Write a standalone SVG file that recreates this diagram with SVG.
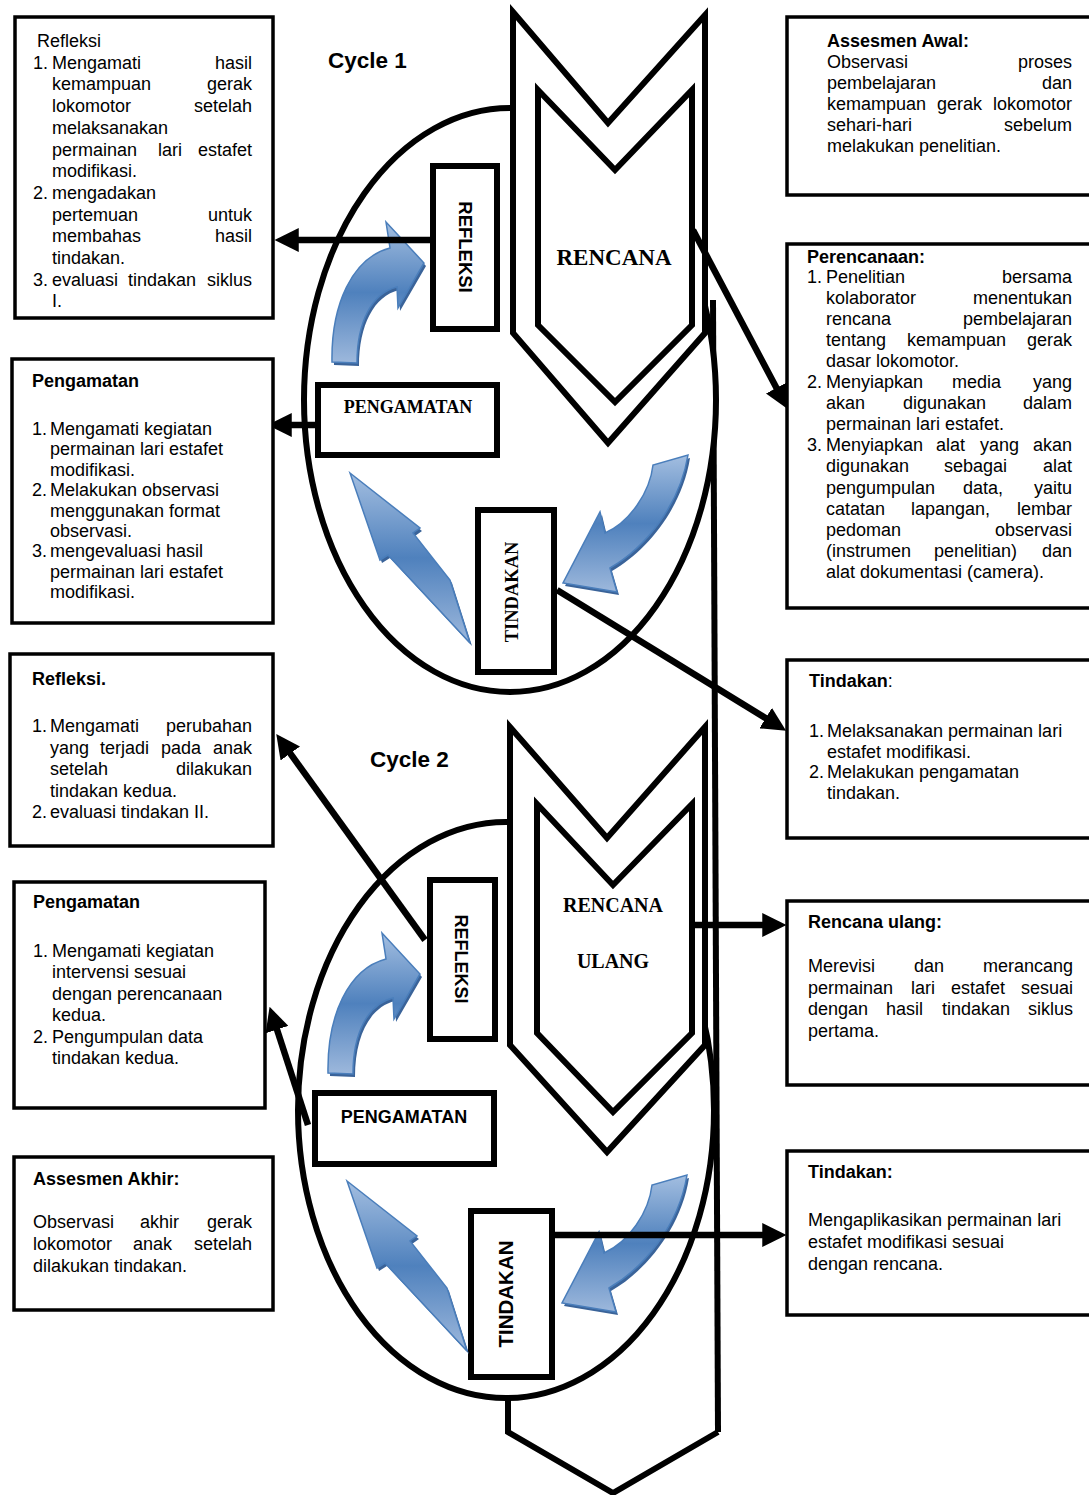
<svg xmlns="http://www.w3.org/2000/svg" xmlns:xlink="http://www.w3.org/1999/xlink" width="1089" height="1495" viewBox="0 0 1089 1495">
<style>
.t{font-family:"Liberation Sans",Arial,sans-serif;font-size:18px;fill:#000}
.b{font-weight:bold}
.e{text-anchor:end}
.m{text-anchor:middle}
.tm{font-family:"Liberation Serif","Times New Roman",serif;font-weight:bold;fill:#000}
.box{fill:#fff;stroke:#000;stroke-width:3.5}
.ib{fill:#fff;stroke:#000;stroke-width:6}
.sh{fill:#fff;stroke:#000;stroke-width:6;stroke-linejoin:miter}
.ln{fill:none;stroke:#000;stroke-width:6}
.con{fill:none;stroke:#000;stroke-width:6.5;marker-end:url(#ah)}
.ba{fill:url(#bg);stroke:#4A7EBB;stroke-width:1.5;stroke-linejoin:miter}
.bs{fill:#3A6399}
</style>
<defs>
<marker id="ah" markerUnits="userSpaceOnUse" markerWidth="24" markerHeight="24" viewBox="0 0 22 22" refX="8" refY="11" orient="auto"><path d="M0,0 L22,11 L0,22 Z" fill="#000"/></marker>
<linearGradient id="bg" x1="0" y1="0" x2="0" y2="1"><stop offset="0" stop-color="#A3BEE0"/><stop offset="0.5" stop-color="#4F81BD"/><stop offset="1" stop-color="#9DB8DC"/></linearGradient>
<path id="arA" d="M332,362 C331,305 352,258 390,248 L386,222 L424,263 L398,308 L397,287 C372,293 357,322 357,363 Z"/>
<path id="arB" d="M653,465 C650,492 630,522 605,533 L600,512 L563,583 L617,592 L610,568 C645,548 680,505 688,455 Z"/>
<path id="arC" d="M350,473 L420,528 L413,533 L450,580 L470,643 L388,555 L380,560 Z"/>
</defs>

<g id="backbone">
<path class="ln" d="M713,300 L718,1432"/>
<path class="ln" d="M508,1398 L508,1432 L613,1493 L718,1432"/>
</g>

<g id="cycle1">
<ellipse class="sh" cx="510" cy="400" rx="206" ry="292"/>
<path class="sh" d="M513,12 L608,123 L705,15 L705,333 L608,443 L513,333 Z"/>
<path class="sh" d="M538,90 L615,170 L692,90 L692,325 L615,402 L538,325 Z"/>
<text class="tm m" x="614" y="265" font-size="23">RENCANA</text>
<text class="t b" x="328" y="68" style="font-size:22.5px">Cycle 1</text>
</g>

<g id="cycle2">
<ellipse class="sh" cx="506" cy="1110" rx="208" ry="288"/>
<path class="sh" d="M510,727 L607,838 L705,727 L705,1045 L607,1152 L510,1045 Z"/>
<path class="sh" d="M537,804 L613,885 L692,804 L692,1033 L613,1112 L537,1033 Z"/>
<text class="tm m" x="613" y="912" font-size="20">RENCANA</text>
<text class="tm m" x="613" y="968" font-size="20">ULANG</text>
<text class="t b" x="370" y="767" style="font-size:22.5px">Cycle 2</text>
</g>

<g id="refleksi1">
<rect class="ib" x="433" y="166" width="64" height="163"/>
<text class="t b m" transform="translate(459,247) rotate(90)" style="font-size:18.5px">REFLEKSI</text>
</g>
<g id="pengamatan1">
<rect class="ib" x="318" y="385" width="179" height="70"/>
<text class="tm m" x="408" y="413" font-size="18">PENGAMATAN</text>
</g>
<g id="tindakan1">
<rect class="ib" x="478" y="510" width="76" height="162"/>
<text class="tm m" transform="translate(518,592) rotate(-90)" font-size="18.5">TINDAKAN</text>
</g>
<g id="refleksi2">
<rect class="ib" x="430" y="880" width="65" height="159"/>
<text class="t b m" transform="translate(455,959) rotate(90)" style="font-size:18px">REFLEKSI</text>
</g>
<g id="pengamatan2">
<rect class="ib" x="315" y="1093" width="179" height="71"/>
<text class="t b m" x="404" y="1123" style="font-size:18px">PENGAMATAN</text>
</g>
<g id="tindakan2">
<rect class="ib" x="471" y="1211" width="81" height="166"/>
<text class="t b m" transform="translate(513,1294) rotate(-90)" style="font-size:20.5px">TINDAKAN</text>
</g>

<g id="cycle-arrows">
<use href="#arA" class="bs" transform="translate(2,3)"/><use href="#arA" class="ba"/>
<use href="#arB" class="bs" transform="translate(2,3)"/><use href="#arB" class="ba"/>
<use href="#arC" class="bs" transform="translate(2,3)"/><use href="#arC" class="ba"/>
<g transform="translate(-4,711)"><use href="#arA" class="bs" transform="translate(2,3)"/><use href="#arA" class="ba"/></g>
<g transform="translate(-1,720)"><use href="#arB" class="bs" transform="translate(2,3)"/><use href="#arB" class="ba"/></g>
<g transform="translate(-3,708)"><use href="#arC" class="bs" transform="translate(2,3)"/><use href="#arC" class="ba"/></g>
</g>

<g id="connectors">
<line class="con" x1="430" y1="240" x2="290" y2="240"/>
<line class="con" x1="315" y1="425" x2="283" y2="425"/>
<line class="con" x1="693" y1="230" x2="780.5" y2="395.6"/>
<line class="con" x1="557" y1="590" x2="773.1" y2="722.7"/>
<line class="con" x1="425" y1="940" x2="285.2" y2="746.4"/>
<line class="con" x1="308" y1="1125" x2="274.3" y2="1021.3"/>
<line class="con" x1="692" y1="925" x2="771" y2="925"/>
<line class="con" x1="555" y1="1235" x2="771" y2="1235"/>
</g>

<g id="box-refleksi1">
<rect class="box" x="15" y="17" width="258" height="301"/>
<text class="t" x="37" y="47">Refleksi</text>
<text class="t" x="33" y="68.7">1.</text><text class="t" x="52" y="68.7">Mengamati</text><text class="t e" x="252" y="68.7">hasil</text>
<text class="t" x="52" y="90.4">kemampuan</text><text class="t e" x="252" y="90.4">gerak</text>
<text class="t" x="52" y="112.1">lokomotor</text><text class="t e" x="252" y="112.1">setelah</text>
<text class="t" x="52" y="133.8">melaksanakan</text>
<text class="t" x="52" y="155.5">permainan</text><text class="t m" x="170" y="155.5">lari</text><text class="t e" x="252" y="155.5">estafet</text>
<text class="t" x="52" y="177.2">modifikasi.</text>
<text class="t" x="33" y="198.9">2.</text><text class="t" x="52" y="198.9">mengadakan</text>
<text class="t" x="52" y="220.6">pertemuan</text><text class="t e" x="252" y="220.6">untuk</text>
<text class="t" x="52" y="242.3">membahas</text><text class="t e" x="252" y="242.3">hasil</text>
<text class="t" x="52" y="264">tindakan.</text>
<text class="t" x="33" y="285.7">3.</text><text class="t" x="52" y="285.7">evaluasi</text><text class="t m" x="162" y="285.7">tindakan</text><text class="t e" x="252" y="285.7">siklus</text>
<text class="t" x="52" y="307.4">I.</text>
</g>

<g id="box-pengamatan1">
<rect class="box" x="12" y="359" width="261" height="264"/>
<text class="t b" x="32" y="387">Pengamatan</text>
<text class="t" x="32" y="435">1.</text><text class="t" x="50" y="435">Mengamati kegiatan</text>
<text class="t" x="50" y="455.4">permainan lari estafet</text>
<text class="t" x="50" y="475.8">modifikasi.</text>
<text class="t" x="32" y="496.2">2.</text><text class="t" x="50" y="496.2">Melakukan observasi</text>
<text class="t" x="50" y="516.6">menggunakan format</text>
<text class="t" x="50" y="537">observasi.</text>
<text class="t" x="32" y="557.4">3.</text><text class="t" x="50" y="557.4">mengevaluasi hasil</text>
<text class="t" x="50" y="577.8">permainan lari estafet</text>
<text class="t" x="50" y="598.2">modifikasi.</text>
</g>

<g id="box-refleksi2">
<rect class="box" x="10" y="654" width="263" height="192"/>
<text class="t b" x="32" y="685">Refleksi.</text>
<text class="t" x="32" y="732">1.</text><text class="t" x="50" y="732">Mengamati</text><text class="t e" x="252" y="732">perubahan</text>
<text class="t" x="50" y="753.5">yang</text><text class="t" x="100" y="753.5">terjadi</text><text class="t" x="161" y="753.5">pada</text><text class="t e" x="252" y="753.5">anak</text>
<text class="t" x="50" y="775">setelah</text><text class="t e" x="252" y="775">dilakukan</text>
<text class="t" x="50" y="796.5">tindakan kedua.</text>
<text class="t" x="32" y="818">2.</text><text class="t" x="50" y="818">evaluasi tindakan II.</text>
</g>

<g id="box-pengamatan2">
<rect class="box" x="14" y="882" width="251" height="226"/>
<text class="t b" x="33" y="908">Pengamatan</text>
<text class="t" x="33" y="957">1.</text><text class="t" x="52" y="957">Mengamati kegiatan</text>
<text class="t" x="52" y="978.4">intervensi sesuai</text>
<text class="t" x="52" y="999.8">dengan perencanaan</text>
<text class="t" x="52" y="1021.2">kedua.</text>
<text class="t" x="33" y="1042.6">2.</text><text class="t" x="52" y="1042.6">Pengumpulan data</text>
<text class="t" x="52" y="1064">tindakan kedua.</text>
</g>

<g id="box-assesmen-akhir">
<rect class="box" x="14" y="1157" width="259" height="153"/>
<text class="t b" x="33" y="1185">Assesmen Akhir:</text>
<text class="t" x="33" y="1228">Observasi</text><text class="t" x="140" y="1228">akhir</text><text class="t e" x="252" y="1228">gerak</text>
<text class="t" x="33" y="1250">lokomotor</text><text class="t" x="133" y="1250">anak</text><text class="t e" x="252" y="1250">setelah</text>
<text class="t" x="33" y="1272">dilakukan tindakan.</text>
</g>

<g id="box-assesmen-awal">
<rect class="box" x="787" y="17" width="310" height="178"/>
<text class="t b" x="827" y="47">Assesmen Awal:</text>
<text class="t" x="827" y="67.5">Observasi</text><text class="t e" x="1072" y="67.5">proses</text>
<text class="t" x="827" y="88.5">pembelajaran</text><text class="t e" x="1072" y="88.5">dan</text>
<text class="t" x="827" y="109.5">kemampuan</text><text class="t" x="937" y="109.5">gerak</text><text class="t e" x="1072" y="109.5">lokomotor</text>
<text class="t" x="827" y="130.5">sehari-hari</text><text class="t e" x="1072" y="130.5">sebelum</text>
<text class="t" x="827" y="151.5">melakukan penelitian.</text>
</g>

<g id="box-perencanaan">
<rect class="box" x="787" y="244" width="310" height="364"/>
<text class="t b" x="807" y="263">Perencanaan:</text>
<text class="t" x="807" y="282.5">1.</text><text class="t" x="826" y="282.5">Penelitian</text><text class="t e" x="1072" y="282.5">bersama</text>
<text class="t" x="826" y="303.6">kolaborator</text><text class="t e" x="1072" y="303.6">menentukan</text>
<text class="t" x="826" y="324.7">rencana</text><text class="t e" x="1072" y="324.7">pembelajaran</text>
<text class="t" x="826" y="345.8">tentang</text><text class="t" x="907" y="345.8">kemampuan</text><text class="t e" x="1072" y="345.8">gerak</text>
<text class="t" x="826" y="366.9">dasar lokomotor.</text>
<text class="t" x="807" y="388">2.</text><text class="t" x="826" y="388">Menyiapkan</text><text class="t" x="952" y="388">media</text><text class="t e" x="1072" y="388">yang</text>
<text class="t" x="826" y="409.1">akan</text><text class="t" x="903" y="409.1">digunakan</text><text class="t e" x="1072" y="409.1">dalam</text>
<text class="t" x="826" y="430.2">permainan lari estafet.</text>
<text class="t" x="807" y="451.3">3.</text><text class="t" x="826" y="451.3">Menyiapkan</text><text class="t" x="936" y="451.3">alat</text><text class="t" x="980" y="451.3">yang</text><text class="t e" x="1072" y="451.3">akan</text>
<text class="t" x="826" y="472.4">digunakan</text><text class="t" x="944" y="472.4">sebagai</text><text class="t e" x="1072" y="472.4">alat</text>
<text class="t" x="826" y="493.5">pengumpulan</text><text class="t" x="963" y="493.5">data,</text><text class="t e" x="1072" y="493.5">yaitu</text>
<text class="t" x="826" y="514.6">catatan</text><text class="t" x="911" y="514.6">lapangan,</text><text class="t e" x="1072" y="514.6">lembar</text>
<text class="t" x="826" y="535.7">pedoman</text><text class="t e" x="1072" y="535.7">observasi</text>
<text class="t" x="826" y="556.8">(instrumen</text><text class="t" x="934" y="556.8">penelitian)</text><text class="t e" x="1072" y="556.8">dan</text>
<text class="t" x="826" y="577.9">alat dokumentasi (camera).</text>
</g>

<g id="box-tindakan1">
<rect class="box" x="787" y="660" width="310" height="178"/>
<text class="t" x="809" y="687"><tspan class="b">Tindakan</tspan>:</text>
<text class="t" x="809" y="737">1.</text><text class="t" x="827" y="737">Melaksanakan permainan lari</text>
<text class="t" x="827" y="757.5">estafet modifikasi.</text>
<text class="t" x="809" y="778">2.</text><text class="t" x="827" y="778">Melakukan pengamatan</text>
<text class="t" x="827" y="798.5">tindakan.</text>
</g>

<g id="box-rencana-ulang">
<rect class="box" x="787" y="901" width="310" height="184"/>
<text class="t b" x="808" y="928">Rencana ulang:</text>
<text class="t" x="808" y="972">Merevisi</text><text class="t" x="914" y="972">dan</text><text class="t e" x="1073" y="972">merancang</text>
<text class="t" x="808" y="993.5">permainan</text><text class="t" x="911" y="993.5">lari</text><text class="t" x="951" y="993.5">estafet</text><text class="t e" x="1073" y="993.5">sesuai</text>
<text class="t" x="808" y="1015">dengan</text><text class="t" x="886" y="1015">hasil</text><text class="t" x="942" y="1015">tindakan</text><text class="t e" x="1073" y="1015">siklus</text>
<text class="t" x="808" y="1036.5">pertama.</text>
</g>

<g id="box-tindakan2">
<rect class="box" x="787" y="1151" width="310" height="164"/>
<text class="t b" x="808" y="1178">Tindakan:</text>
<text class="t" x="808" y="1226">Mengaplikasikan permainan lari</text>
<text class="t" x="808" y="1248">estafet modifikasi sesuai</text>
<text class="t" x="808" y="1270">dengan rencana.</text>
</g>
</svg>
